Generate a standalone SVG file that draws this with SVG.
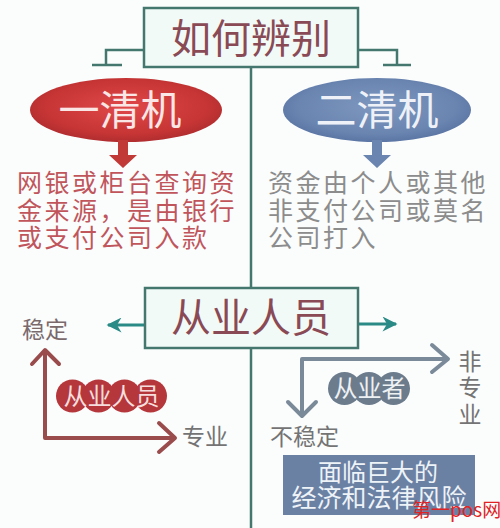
<svg xmlns="http://www.w3.org/2000/svg" width="500" height="528" viewBox="0 0 500 528">
<defs>
<radialGradient id="gRed" cx="50%" cy="45%" r="60%">
<stop offset="0" stop-color="#e04848"/><stop offset="0.7" stop-color="#c73535"/><stop offset="1" stop-color="#a82a2d"/>
</radialGradient>
<radialGradient id="gBlue" cx="50%" cy="45%" r="60%">
<stop offset="0" stop-color="#7d97bf"/><stop offset="0.7" stop-color="#6a85b0"/><stop offset="1" stop-color="#5670a0"/>
</radialGradient>
<marker id="tealHead" viewBox="0 0 10 10" refX="9" refY="5" markerWidth="7" markerHeight="5" orient="auto" markerUnits="strokeWidth">
<path d="M0,0 L10,5 L0,10 L3,5 Z" fill="#2a8a86"/>
</marker>
</defs>
<style>
.cjk{font-family:"Noto Sans CJK SC","Noto Sans",sans-serif;}
.teal{fill:none;stroke:#44786f;stroke-width:2.5;}
.box{fill:#f2faf7;stroke:#44786f;stroke-width:2.5;}
.head{fill:#8a4a55;font-size:40px;}
.redt{fill:#c0565c;font-size:25px;letter-spacing:2.5px;}
.grayt{fill:#8c8c8c;font-size:25px;letter-spacing:2.5px;}
.lab{fill:#7a6a6c;font-size:23px;}
.glab{fill:#747474;font-size:23px;}
.rline{fill:none;stroke:#9a4b4b;stroke-width:4;stroke-linecap:round;stroke-linejoin:round;}
.bline{fill:none;stroke:#7b8a99;stroke-width:4;stroke-linecap:round;stroke-linejoin:round;}
</style>
<rect width="500" height="528" fill="#fbfdfd"/>

<g id="connectors">
<path class="teal" d="M251,67 V287 M251,348 V528"/>
<path class="teal" d="M143,50 H106 V65 M92,65 H122"/>
<path class="teal" d="M358,50 H397 V65 M383,65 H411"/>
<path d="M145,325 H108" stroke="#2a8a86" stroke-width="3" marker-end="url(#tealHead)"/>
<path d="M358,324 H396" stroke="#2a8a86" stroke-width="3" marker-end="url(#tealHead)"/>
</g>

<g id="title">
<rect class="box" x="144" y="8" width="214" height="59"/>
<text class="cjk head" x="251" y="53" text-anchor="middle">如何辨别</text>
</g>

<g id="yiqingji">
<ellipse cx="126" cy="110" rx="96" ry="32" fill="url(#gRed)"/>
<text class="cjk" x="120" y="125" text-anchor="middle" font-size="41" fill="#fbe6e6">一清机</text>
<path d="M118,140 H128 V155 H137 L123,168 L109,155 H118 Z" fill="#c23a38"/>
</g>

<g id="erqingji">
<ellipse cx="377" cy="110" rx="94" ry="32" fill="url(#gBlue)"/>
<text class="cjk" x="377" y="125" text-anchor="middle" font-size="41" fill="#eef2f8">二清机</text>
<path d="M372,140 H382 V155 H391 L377,168 L363,155 H372 Z" fill="#6a85b0"/>
</g>

<g id="desc1">
<text class="cjk redt" x="17" y="192">网银或柜台查询资</text>
<text class="cjk redt" x="17" y="220">金来源，是由银行</text>
<text class="cjk redt" x="17" y="247">或支付公司入款</text>
</g>

<g id="desc2">
<text class="cjk grayt" x="268" y="192">资金由个人或其他</text>
<text class="cjk grayt" x="268" y="220">非支付公司或莫名</text>
<text class="cjk grayt" x="268" y="247">公司打入</text>
</g>

<g id="congye">
<rect class="box" x="145" y="288" width="213" height="60"/>
<text class="cjk head" x="251" y="332" text-anchor="middle">从业人员</text>
</g>

<g id="left-chart">
<path class="rline" d="M45,352 V438 H174"/>
<path class="rline" d="M32,364 L45,350 L59,364"/>
<path class="rline" d="M159,423 L175,438 L159,452"/>
<circle cx="72.5" cy="396" r="16.5" fill="#b5373c"/>
<circle cx="98.5" cy="396" r="16.5" fill="#b5373c"/>
<circle cx="124.5" cy="396" r="16.5" fill="#b5373c"/>
<circle cx="150.5" cy="396" r="16.5" fill="#b5373c"/>
<text class="cjk" x="111.5" y="405" text-anchor="middle" font-size="24" fill="#f6dede">从业人员</text>
<text class="cjk lab" x="22" y="338">稳定</text>
<text class="cjk glab" x="182" y="445">专业</text>
</g>

<g id="right-chart">
<path class="bline" d="M447,359 H302 V414"/>
<path class="bline" d="M432,345 L448,359 L432,372"/>
<path class="bline" d="M288,402 L302,416 L316,402"/>
<circle cx="344.5" cy="388.5" r="16.5" fill="#6c7c8c"/>
<circle cx="369" cy="388.5" r="16.5" fill="#6c7c8c"/>
<circle cx="393.5" cy="388.5" r="16.5" fill="#6c7c8c"/>
<text class="cjk" x="369.5" y="397" text-anchor="middle" font-size="24" fill="#eef1f4">从业者</text>
<text class="cjk glab" x="470" y="370" text-anchor="middle">非</text>
<text class="cjk glab" x="470" y="396" text-anchor="middle">专</text>
<text class="cjk glab" x="470" y="423" text-anchor="middle">业</text>
<text class="cjk glab" x="270" y="445">不稳定</text>
</g>

<g id="risk">
<rect x="283" y="455" width="192" height="60" fill="#6b81a4"/>
<text class="cjk" x="378" y="481" text-anchor="middle" font-size="24" fill="#eef3f8">面临巨大的</text>
<text class="cjk" x="379" y="507" text-anchor="middle" font-size="25" fill="#eef3f8">经济和法律风险</text>
</g>

<text class="cjk" x="412" y="517" font-size="19" fill="#e02424">第一pos网</text>
</svg>
